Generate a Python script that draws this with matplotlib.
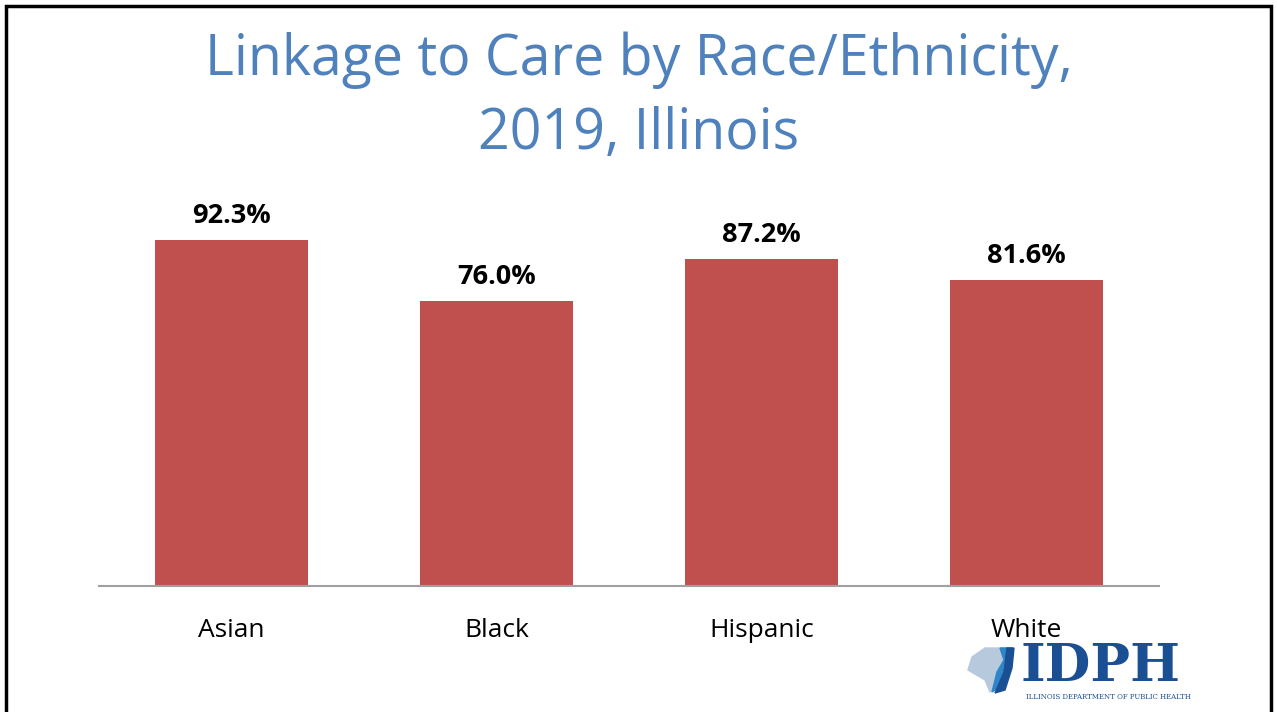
import matplotlib.pyplot as plt
from matplotlib.patches import Rectangle, Polygon

categories = ['Asian', 'Black', 'Hispanic', 'White']
linkage_pct = [92.3, 76.0, 87.2, 81.6]
value_labels = ['92.3%', '76.0%', '87.2%', '81.6%']

bar_color = '#C0504D'
title_color = '#4F81BD'
font = ['Open Sans', 'DejaVu Sans']

fig = plt.figure(figsize=(12.77, 7.12), dpi=100)
ax = fig.add_axes([99 / 1277, 1 - 586 / 712, 1060 / 1277, 375 / 712])

x = range(len(categories))
bars = ax.bar(x, linkage_pct, width=0.574, color=bar_color)
ax.set_xlim(-0.5, len(categories) - 0.5)
ax.set_ylim(0, 100)

for b, lab in zip(bars, value_labels):
    ax.annotate(lab, (b.get_x() + b.get_width() / 2, b.get_height()),
                xytext=(0, 8), textcoords='offset points', ha='center', va='bottom',
                fontsize=19.5, fontweight='bold', family=font, annotation_clip=False)

ax.set_xticks(list(x))
ax.set_xticklabels(categories, fontsize=19, family=font)
ax.tick_params(axis='x', length=0, pad=23)
ax.set_yticks([])
for s in ['top', 'right', 'left']:
    ax.spines[s].set_visible(False)
ax.spines['bottom'].set_color('#A0A0A0')
ax.spines['bottom'].set_linewidth(1.5)

# title
fig.text(0.5, 1 - 60 / 712, 'Linkage to Care by Race/Ethnicity,', ha='center', va='center',
         fontsize=40, color=title_color, family=font)
fig.text(0.5, 1 - 135 / 712, '2019, Illinois', ha='center', va='center',
         fontsize=40, color=title_color, family=font)

# slide border
fig.add_artist(Rectangle((6 / 1277, -0.05), 1265 / 1277, 1.05 - 6 / 712, transform=fig.transFigure,
                         fill=False, edgecolor='black', linewidth=2.5))

# IDPH logo (approximate)
def px(xp, yp):
    return (xp / 1277, 1 - yp / 712)

fig.add_artist(Polygon([px(985, 648), px(1012, 648), px(1010, 665), px(1000, 685), px(990, 692),
                        px(985, 680), px(968, 670), px(972, 657)],
                       closed=True, transform=fig.transFigure, color='#B7C9DD'))
fig.add_artist(Polygon([px(1000, 648), px(1012, 648), px(1010, 665), px(1003, 685), px(992, 692),
                        px(997, 672), px(1004, 660)],
                       closed=True, transform=fig.transFigure, color='#2E86C8'))
fig.add_artist(Polygon([px(1007, 648), px(1014, 648), px(1012, 668), px(1005, 690), px(995, 693),
                        px(1004, 672)],
                       closed=True, transform=fig.transFigure, color='#1B4F93'))
fig.text(1021 / 1277, 1 - 681 / 712, 'IDPH', ha='left', va='baseline', fontsize=38,
         fontweight='bold', family='DejaVu Serif', color='#1B4F93')
fig.text(1108 / 1277, 1 - 699 / 712, 'ILLINOIS DEPARTMENT OF PUBLIC HEALTH', ha='center', va='baseline',
         fontsize=5.0, family='DejaVu Serif', color='#1B4F93')

fig.savefig('out.png', dpi=100)
